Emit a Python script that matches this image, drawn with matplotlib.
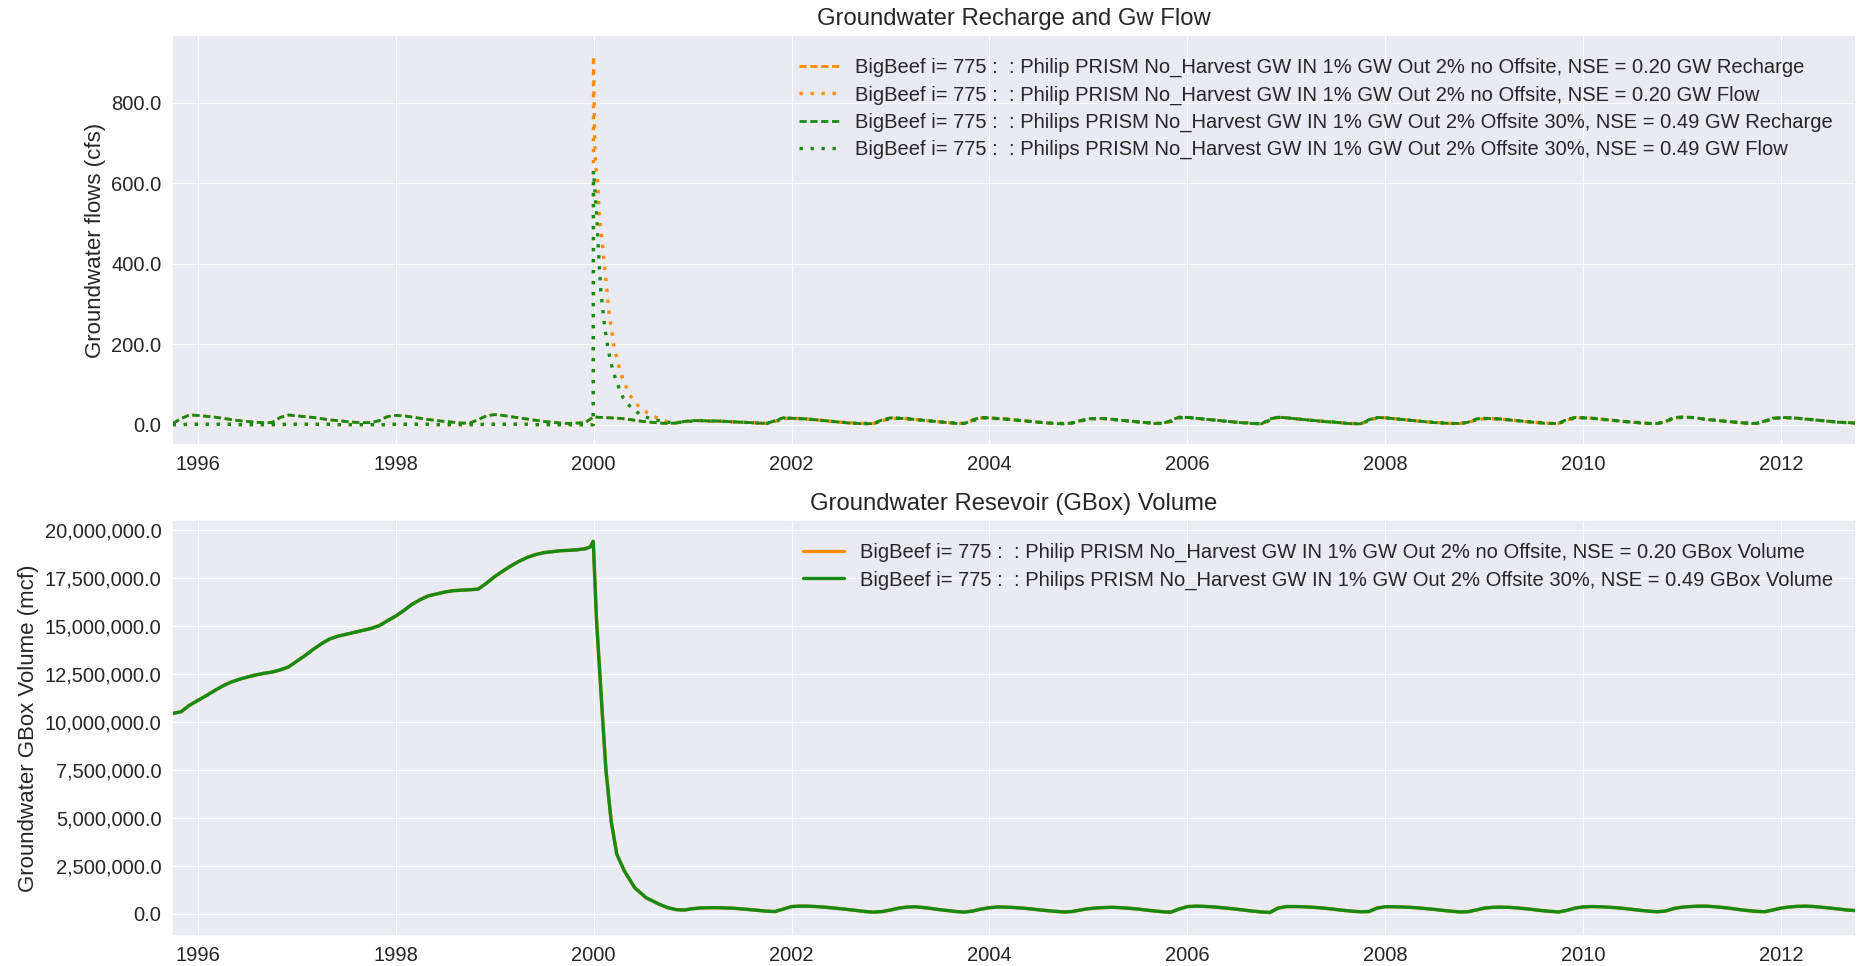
import numpy as np
import pandas as pd
import matplotlib
matplotlib.use('Agg')
import matplotlib.pyplot as plt
import matplotlib.dates as mdates
from matplotlib.ticker import FuncFormatter

# --- data (water years Oct-Sep) ---
month_start = '1995-10-01'
month_end = '2012-09-01'
last_day = '2012-09-30'

# GW recharge (cfs), monthly, both runs plot on top of each other
recharge = [
    3, 15, 24, 23, 21, 19, 16, 13, 10, 8, 6, 5,    # WY1996
    5, 18, 24, 22, 20, 18, 15, 12, 10, 8, 6, 5,    # WY1997
    5, 10, 20, 23, 22, 19, 16, 13, 10, 8, 6, 4,    # WY1998
    4, 12, 22, 25, 23, 20, 17, 14, 11, 8, 6, 4,    # WY1999
    3, 4, 5, 19, 18, 17, 16, 14, 11, 8, 6, 4,      # WY2000
    3, 4, 8, 10, 10, 9, 9, 8, 7, 6, 5, 4,          # WY2001
    3, 10, 17, 16, 15, 14, 12, 10, 8, 6, 4, 3,     # WY2002
    2, 3, 12, 17, 16, 15, 13, 11, 9, 7, 5, 3,      # WY2003
    3, 12, 18, 17, 15, 14, 12, 10, 8, 6, 4, 3,     # WY2004
    2, 4, 10, 15, 16, 15, 13, 11, 9, 7, 5, 3,      # WY2005
    3, 10, 19, 18, 16, 14, 12, 10, 8, 6, 4, 3,     # WY2006
    2, 14, 19, 17, 15, 13, 11, 9, 7, 6, 4, 2,      # WY2007
    2, 12, 18, 17, 15, 13, 11, 9, 7, 5, 4, 3,      # WY2008
    3, 6, 14, 16, 15, 14, 12, 10, 8, 6, 4, 3,      # WY2009
    3, 13, 18, 17, 16, 14, 12, 10, 8, 6, 4, 3,     # WY2010
    3, 8, 18, 19, 18, 16, 13, 11, 9, 7, 5, 3,      # WY2011
    3, 9, 16, 18, 17, 16, 14, 12, 10, 8, 6, 5, 4,  # WY2012 + last day
]

# GW flow (cfs) before the Jan 2000 release, Oct 1995 - Dec 1999
flow_pre = [
    0, 0, 1, 1, 1, 1, 1, 1, 0, 0, 0, 0,
    0, 0, 1, 1, 1, 1, 1, 1, 0, 0, 0, 0,
    0, 0, 0, 1, 1, 1, 1, 1, 0, 0, 0, 0,
    0, 0, 1, 1, 1, 1, 1, 1, 0, 0, 0, 0,
    0, 0, 0,
]
# the release spike, no offsite run
spike_a_dates = ['1999-12-31', '2000-01-01', '2000-01-03', '2000-01-05', '2000-01-08',
                 '2000-01-16', '2000-01-22', '2000-02-04', '2000-02-16', '2000-02-28',
                 '2000-03-17', '2000-04-12', '2000-05-12', '2000-06-21', '2000-08-07',
                 '2000-09-12']
spike_a = [0, 917, 813, 730, 647, 606, 523, 440, 357, 274, 191, 124, 75, 41, 21, 12]
# offsite 30% run
spike_b_dates = ['1999-12-31', '2000-01-01', '2000-01-13', '2000-01-22', '2000-01-28',
                 '2000-02-10', '2000-02-23', '2000-03-07', '2000-03-25', '2000-04-20',
                 '2000-05-20', '2000-07-01', '2000-08-15', '2000-09-15']
spike_b = [0, 631, 515, 398, 332, 249, 191, 149, 108, 66, 41, 21, 12, 8]
# GW flow (cfs) Oct 2000 - Sep 2012 (+ last day)
flow_post = [
    6, 5, 7, 9, 10, 9, 9, 8, 7, 6, 5, 4,
    3, 8, 15, 16, 15, 14, 12, 10, 8, 6, 5, 3,
    3, 3, 10, 15, 16, 15, 13, 11, 9, 7, 5, 4,
    3, 10, 16, 17, 15, 14, 12, 10, 8, 6, 5, 3,
    3, 4, 9, 14, 15, 15, 13, 11, 9, 7, 5, 4,
    3, 8, 17, 18, 16, 14, 12, 10, 8, 6, 5, 3,
    2, 11, 18, 17, 15, 13, 11, 9, 8, 6, 4, 3,
    2, 10, 17, 17, 15, 13, 11, 9, 7, 6, 4, 3,
    3, 5, 12, 15, 15, 14, 12, 10, 8, 6, 5, 3,
    3, 11, 17, 17, 16, 14, 12, 10, 8, 6, 5, 3,
    3, 7, 16, 18, 18, 16, 13, 11, 9, 7, 5, 4,
    3, 8, 15, 17, 17, 16, 14, 12, 10, 8, 6, 5, 4,
]

# GBox volume (million mcf), Oct 1995 - Dec 1999
vol_pre = [
    10.43, 10.52, 10.85, 11.10, 11.35, 11.60, 11.85, 12.05, 12.20, 12.32, 12.43, 12.52,
    12.58, 12.70, 12.85, 13.15, 13.45, 13.75, 14.05, 14.30, 14.45, 14.55, 14.65, 14.75,
    14.85, 15.00, 15.25, 15.50, 15.80, 16.10, 16.35, 16.55, 16.65, 16.75, 16.82, 16.85,
    16.87, 16.90, 17.20, 17.55, 17.85, 18.10, 18.35, 18.55, 18.70, 18.80, 18.85, 18.90,
    18.92, 18.95, 19.00,
]
drop_dates = ['1999-12-20', '1999-12-31', '2000-01-12', '2000-02-04', '2000-02-16',
              '2000-03-06', '2000-03-27', '2000-04-24', '2000-06-01', '2000-07-13',
              '2000-09-01']
vol_drop = [19.10, 19.39, 15.30, 10.07, 7.46, 4.84, 3.10, 2.23, 1.36, 0.84, 0.49]
# Oct 2000 - Sep 2012 (+ last day)
vol_post = [
    0.32, 0.22, 0.20, 0.27, 0.31, 0.32, 0.32, 0.31, 0.29, 0.26, 0.22, 0.18,
    0.14, 0.12, 0.25, 0.38, 0.40, 0.40, 0.38, 0.35, 0.31, 0.27, 0.22, 0.17,
    0.12, 0.09, 0.12, 0.20, 0.30, 0.35, 0.37, 0.33, 0.28, 0.22, 0.17, 0.12,
    0.09, 0.15, 0.25, 0.32, 0.36, 0.35, 0.33, 0.30, 0.26, 0.21, 0.17, 0.13,
    0.10, 0.12, 0.20, 0.27, 0.31, 0.33, 0.34, 0.32, 0.29, 0.25, 0.20, 0.15,
    0.11, 0.09, 0.25, 0.38, 0.40, 0.39, 0.37, 0.33, 0.29, 0.24, 0.19, 0.14,
    0.10, 0.07, 0.30, 0.38, 0.38, 0.37, 0.35, 0.32, 0.28, 0.23, 0.18, 0.14,
    0.11, 0.12, 0.30, 0.37, 0.37, 0.36, 0.34, 0.31, 0.27, 0.23, 0.18, 0.14,
    0.10, 0.11, 0.20, 0.30, 0.34, 0.35, 0.34, 0.31, 0.27, 0.22, 0.17, 0.13,
    0.10, 0.18, 0.30, 0.36, 0.38, 0.37, 0.35, 0.32, 0.28, 0.23, 0.18, 0.14,
    0.11, 0.15, 0.28, 0.35, 0.38, 0.40, 0.40, 0.37, 0.33, 0.28, 0.22, 0.17,
    0.13, 0.11, 0.20, 0.30, 0.36, 0.39, 0.40, 0.38, 0.34, 0.30, 0.25, 0.20, 0.17,
]

run_a = 'BigBeef i= 775 :  : Philip PRISM No_Harvest GW IN 1% GW Out 2% no Offsite, NSE = 0.20'
run_b = 'BigBeef i= 775 :  : Philips PRISM No_Harvest GW IN 1% GW Out 2% Offsite 30%, NSE = 0.49'
ORANGE = 'darkorange'
GREEN = '#158a15'

# --- build series ---
months = pd.date_range(month_start, month_end, freq='MS')
all_dates = list(months) + [pd.Timestamp(last_day)]
pre_dates = [d for d in months if d < pd.Timestamp('2000-01-01')]
post_dates = [d for d in months if d >= pd.Timestamp('2000-10-01')] + [pd.Timestamp(last_day)]

rech = pd.Series(recharge, index=all_dates)
flow_a = pd.Series(flow_pre + spike_a + flow_post,
                   index=pre_dates + list(pd.to_datetime(spike_a_dates)) + post_dates)
flow_b = pd.Series(flow_pre + spike_b + flow_post,
                   index=pre_dates + list(pd.to_datetime(spike_b_dates)) + post_dates)
vol = pd.Series(np.array(vol_pre + vol_drop + vol_post) * 1e6,
                index=pre_dates + list(pd.to_datetime(drop_dates)) + post_dates)

# --- plot ---
plt.style.use('seaborn-v0_8-darkgrid')
plt.rcParams['font.family'] = ['Liberation Sans', 'DejaVu Sans']
plt.rcParams['text.color'] = '.15'
plt.rcParams['axes.labelcolor'] = '.15'
plt.rcParams['xtick.color'] = '.15'
plt.rcParams['ytick.color'] = '.15'

fig, (ax1, ax2) = plt.subplots(2, 1, figsize=(18.57, 9.66), dpi=100)
ax1.set_position([0.093, 0.5404, 0.906, 0.4223])
ax2.set_position([0.093, 0.0321, 0.906, 0.4286])

lw = 2.0
ax1.plot(rech.index, rech.values, color=ORANGE, lw=lw, dashes=(2.6, 1.3), label=run_a + ' GW Recharge')
ax1.plot(flow_a.index, flow_a.values, color=ORANGE, lw=2.4, dashes=(1, 2.3), label=run_a + ' GW Flow')
ax1.plot(rech.index, rech.values, color=GREEN, lw=lw, dashes=(2.6, 1.3), label=run_b + ' GW Recharge')
ax1.plot(flow_b.index, flow_b.values, color=GREEN, lw=2.4, dashes=(1, 2.3), label=run_b + ' GW Flow')
ax1.set_title('Groundwater Recharge and Gw Flow', fontsize=17.2, pad=8)
ax1.set_ylabel('Groundwater flows (cfs)', fontsize=16)
ax1.set_ylim(-48, 966)
ax1.yaxis.set_major_formatter(FuncFormatter(lambda v, p: f'{v:.1f}'))
ax1.legend(loc='upper right', frameon=False, fontsize=14.5, borderaxespad=0.7, labelspacing=0.4)

ax2.plot(vol.index, vol.values, color=ORANGE, lw=2.4, label=run_a + ' GBox Volume')
ax2.plot(vol.index, vol.values, color=GREEN, lw=2.4, label=run_b + ' GBox Volume')
ax2.set_title('Groundwater Resevoir (GBox) Volume', fontsize=17.2, pad=8)
ax2.set_ylabel('Groundwater GBox Volume (mcf)', fontsize=16)
ax2.set_ylim(-1.1e6, 20.45e6)
ax2.set_yticks(np.arange(0, 20.01e6, 2.5e6))
ax2.yaxis.set_major_formatter(FuncFormatter(lambda v, p: f'{v:,.1f}'))
ax2.legend(loc='upper right', frameon=False, fontsize=14.5, borderaxespad=0.7, labelspacing=0.4)

for ax in (ax1, ax2):
    ax.set_xlim(pd.Timestamp(month_start), pd.Timestamp(last_day))
    ax.xaxis.set_major_locator(mdates.YearLocator(2))
    ax.xaxis.set_major_formatter(mdates.DateFormatter('%Y'))
    ax.tick_params(labelsize=14.5, length=0, pad=8)

fig.savefig('out.png', dpi=100)
